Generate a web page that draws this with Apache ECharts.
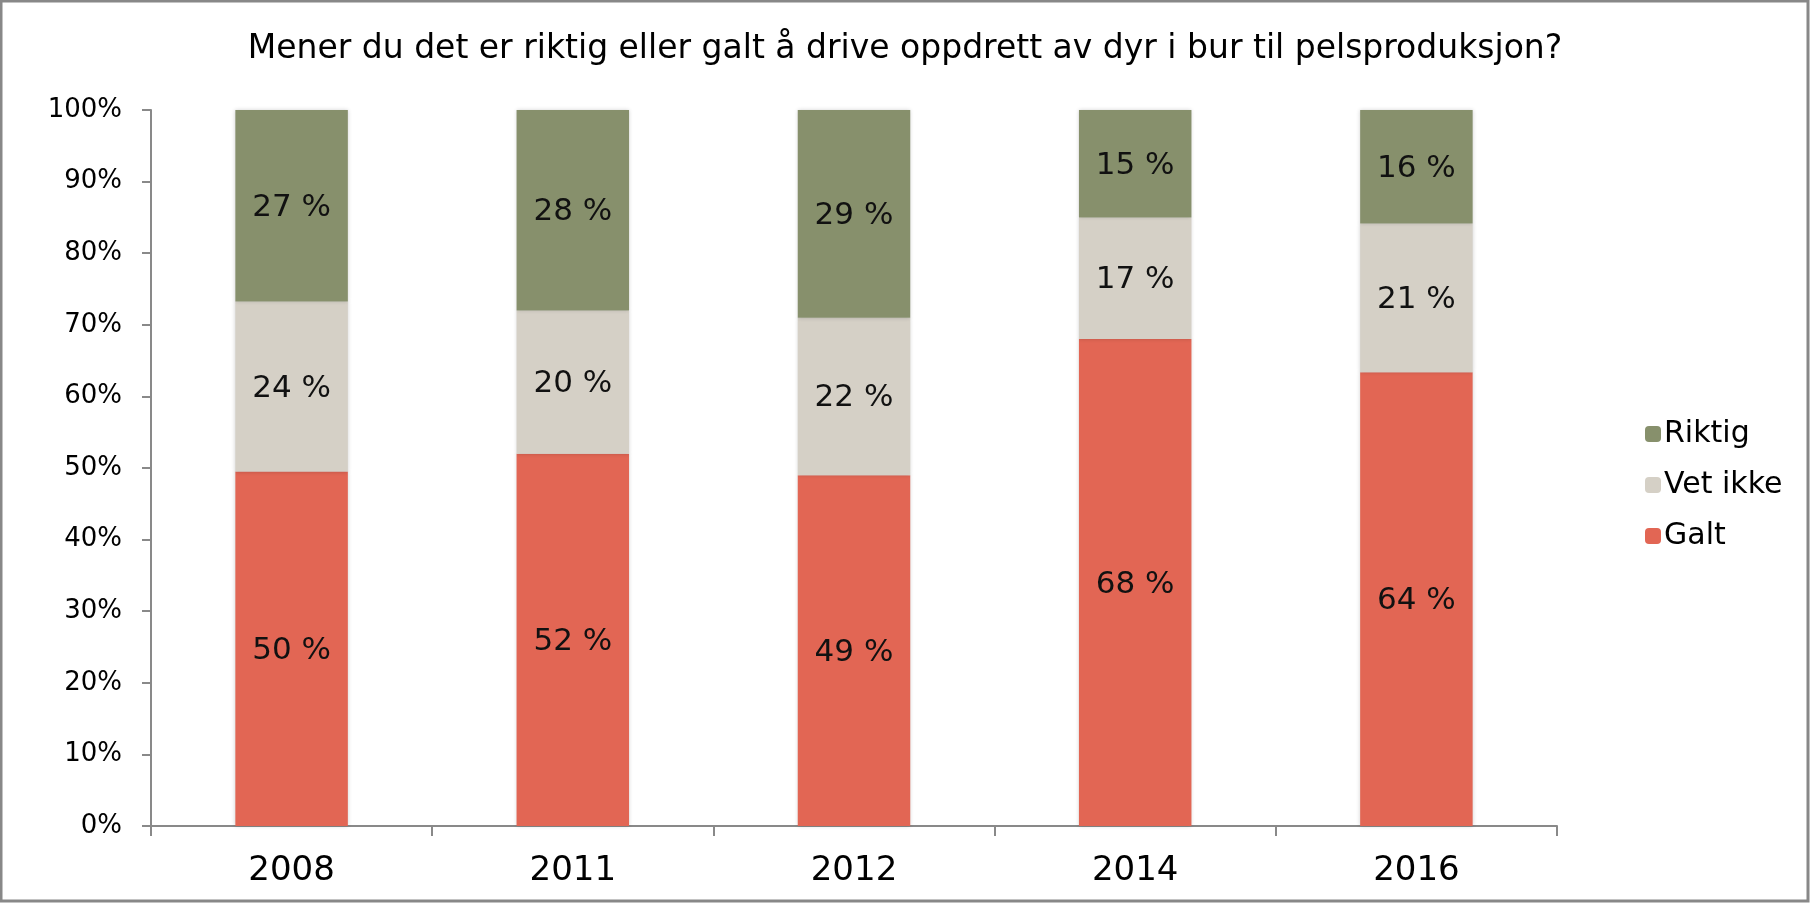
<!DOCTYPE html>
<html>
<head>
<meta charset="utf-8">
<script src="https://cdn.jsdelivr.net/npm/echarts@6/dist/echarts.min.js"></script>
<style>
html,body{margin:0;padding:0;background:#fff;}
#chart{width:1810px;height:903px;}
</style>
</head>
<body>
<div id="chart"></div>
<script>
const title = 'Mener du det er riktig eller galt å drive oppdrett av dyr i bur til pelsproduksjon?';
const years = ['2008', '2011', '2012', '2014', '2016'];
const galt = [50, 52, 49, 68, 64];
const vetIkke = [24, 20, 22, 17, 21];
const riktig = [27, 28, 29, 15, 16];
const yTicks = [0, 10, 20, 30, 40, 50, 60, 70, 80, 90, 100];

const FONT = 'DejaVu Sans';
const totals = years.map((_, i) => galt[i] + vetIkke[i] + riktig[i]);
const norm = arr => arr.map((v, i) => ({ value: v / totals[i] * 100, raw: v }));

function mk(name, arr, color) {
  return {
    name: name,
    type: 'bar',
    stack: 'total',
    barWidth: '40%',
    data: norm(arr),
    itemStyle: { color: color, shadowColor: 'rgba(0,0,0,0.18)', shadowBlur: 4 },
    label: {
      show: true,
      position: 'inside',
      offset: [0, 2],
      color: '#111',
      fontFamily: FONT,
      fontSize: 31,
      formatter: p => p.data.raw + ' %'
    }
  };
}

const chart = echarts.init(document.getElementById('chart'));
chart.setOption({
  animation: false,
  backgroundColor: '#fff',
  title: {
    text: title,
    left: 'center',
    top: 28,
    textStyle: { fontFamily: FONT, fontSize: 33, fontWeight: 'normal', color: '#000' }
  },
  legend: {
    orient: 'vertical',
    left: 1640,
    top: 414,
    itemWidth: 16,
    itemHeight: 16,
    itemGap: 21,
    data: ['Riktig', 'Vet ikke', 'Galt'],
    textStyle: { fontFamily: FONT, fontSize: 30, color: '#000', padding: [0, 0, 0, -2] }
  },
  grid: { left: 151, right: 253, top: 110, bottom: 77, containLabel: false },
  xAxis: {
    type: 'category',
    data: years,
    axisLine: { lineStyle: { color: '#898989', width: 2 } },
    axisTick: { show: true, length: 10, alignWithLabel: false, interval: 0, lineStyle: { color: '#898989', width: 2 } },
    axisLabel: { fontFamily: FONT, fontSize: 34, color: '#000', margin: 28 }
  },
  yAxis: {
    type: 'value',
    min: yTicks[0],
    max: yTicks[yTicks.length - 1],
    interval: yTicks[1] - yTicks[0],
    splitLine: { show: false },
    axisLine: { show: true, lineStyle: { color: '#898989', width: 2 } },
    axisTick: { show: true, length: 9, lineStyle: { color: '#898989', width: 2 } },
    axisLabel: { fontFamily: FONT, fontSize: 26, color: '#000', margin: 29, formatter: '{value}%' }
  },
  graphic: [{
    type: 'rect',
    shape: { x: 1, y: 1, width: 1807, height: 900 },
    style: { fill: 'none', stroke: '#888', lineWidth: 3 },
    silent: true,
    z: 100
  }],
  series: [
    mk('Galt', galt, '#E26654'),
    mk('Vet ikke', vetIkke, '#D5D0C6'),
    mk('Riktig', riktig, '#87906C')
  ]
});
</script>
</body>
</html>
